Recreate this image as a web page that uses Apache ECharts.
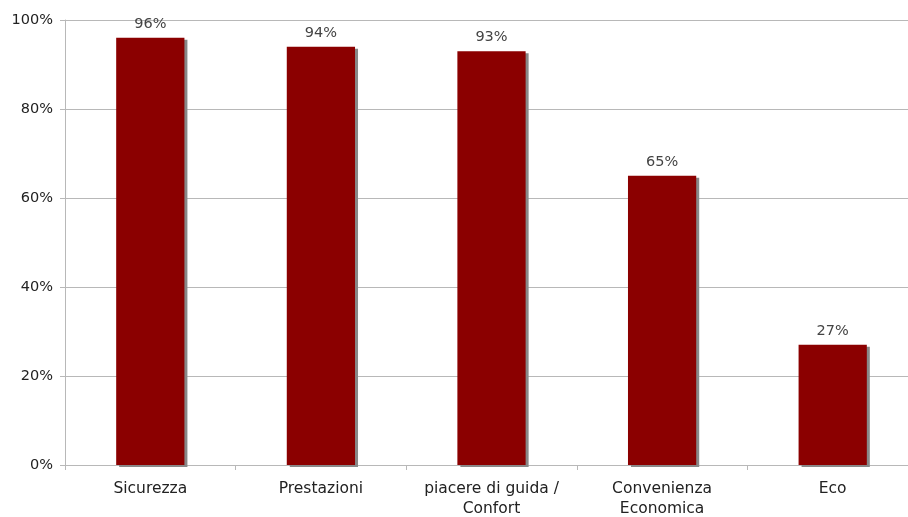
<!DOCTYPE html>
<html><head><meta charset="utf-8">
<script src="https://cdn.jsdelivr.net/npm/echarts@6/dist/echarts.min.js"></script>
<style>html,body{margin:0;padding:0;background:#fff}#c{width:908px;height:517px}</style>
</head><body><div id="c"></div>
<script>
const categories = ['Sicurezza', 'Prestazioni', 'piacere di guida /\nConfort', 'Convenienza\nEconomica', 'Eco'];
const values = [96, 94, 93, 65, 27];
const yTicks = [0, 20, 40, 60, 80, 100];

const chart = echarts.init(document.getElementById('c'));
chart.setOption({
  animation: false,
  grid: { left: 65, width: 853, top: 20, height: 445, containLabel: false, outerBoundsMode: 'none' },
  xAxis: {
    type: 'category', data: categories,
    axisLine: { lineStyle: { color: '#b8b8b8' } },
    axisTick: { show: true, length: 5, lineStyle: { color: '#b8b8b8' } },
    axisLabel: { color: '#222', fontFamily: 'DejaVu Sans', fontSize: 15.5, margin: 14, lineHeight: 20, interval: 0 }
  },
  yAxis: {
    type: 'value', min: 0, max: 100, interval: 20,
    axisLine: { show: true, lineStyle: { color: '#b8b8b8' } },
    axisTick: { show: true, length: 5, lineStyle: { color: '#b8b8b8' } },
    splitLine: { lineStyle: { color: '#b8b8b8' } },
    axisLabel: { color: '#222', fontFamily: 'DejaVu Sans', fontSize: 14.5, margin: 12,
      formatter: v => yTicks.includes(v) ? v + '%' : '' }
  },
  series: [{
    type: 'bar', data: values, barWidth: '40%',
    itemStyle: { color: '#8b0000', shadowColor: '#888', shadowOffsetX: 3, shadowOffsetY: 2, shadowBlur: 0 },
    label: { show: true, position: 'top', distance: 6, formatter: p => p.value + '%',
      color: '#444', fontFamily: 'DejaVu Sans', fontSize: 14.5 }
  }]
});
</script></body></html>
